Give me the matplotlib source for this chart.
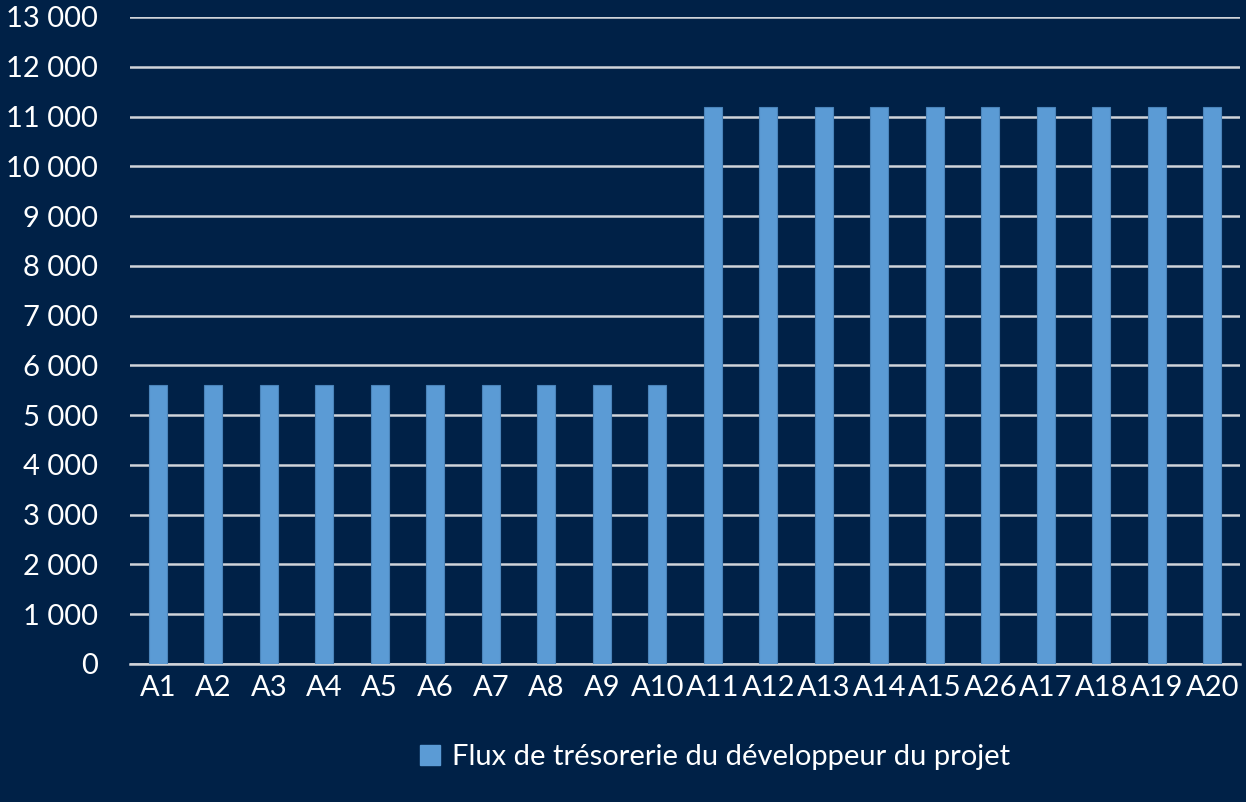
import matplotlib
matplotlib.use("Agg")
import matplotlib.pyplot as plt
from matplotlib.patches import Patch

categories = ["A1", "A2", "A3", "A4", "A5", "A6", "A7", "A8", "A9", "A10",
              "A11", "A12", "A13", "A14", "A15", "A26", "A17", "A18", "A19", "A20"]
values = [5600] * 10 + [11200] * 10
yticks = list(range(0, 13001, 1000))
ytick_labels = [f"{v:,}".replace(",", " ") for v in yticks]
series_name = "Flux de trésorerie du développeur du projet"

bg = "#002147"
bar_color = "#5B9BD5"
plt.rcParams["font.family"] = ["Lato", "DejaVu Sans"]

fig = plt.figure(figsize=(12.46, 8.02), dpi=100, facecolor=bg)
W, H = 1246, 802
ax = fig.add_axes([130 / W, 1 - 664 / H, (1240 - 130) / W, (664 - 17) / H])
ax.set_facecolor(bg)

x = list(range(len(categories)))
ax.bar(x, values, width=0.33, color=bar_color, edgecolor="#4A84BA", linewidth=0.8, zorder=3)

ax.set_xlim(-0.5, len(categories) - 0.5)
ax.set_ylim(0, 13000)
ax.set_yticks(yticks)
ax.set_yticklabels(ytick_labels)
ax.set_xticks(x)
ax.set_xticklabels(categories)
ax.yaxis.grid(True, color="#D0D4DA", linewidth=1.8, zorder=1)
ax.set_axisbelow(True)
for s in ["top", "right", "left"]:
    ax.spines[s].set_visible(False)
ax.spines["bottom"].set_color("#D0D4DA")
ax.spines["bottom"].set_linewidth(1.8)
ax.spines["bottom"].set_zorder(2)
ax.tick_params(axis="both", length=0, colors="white", labelsize=21)
ax.tick_params(axis="y", pad=23)
ax.tick_params(axis="x", pad=8)

leg = fig.legend(handles=[Patch(facecolor=bar_color, edgecolor=bar_color, label=series_name)],
                 loc="center", bbox_to_anchor=(715 / W, 1 - 757 / H), frameon=False,
                 fontsize=21, labelcolor="white", handlelength=0.7, handleheight=0.7,
                 handletextpad=0.4)

fig.savefig("out.png", dpi=100, facecolor=bg)
